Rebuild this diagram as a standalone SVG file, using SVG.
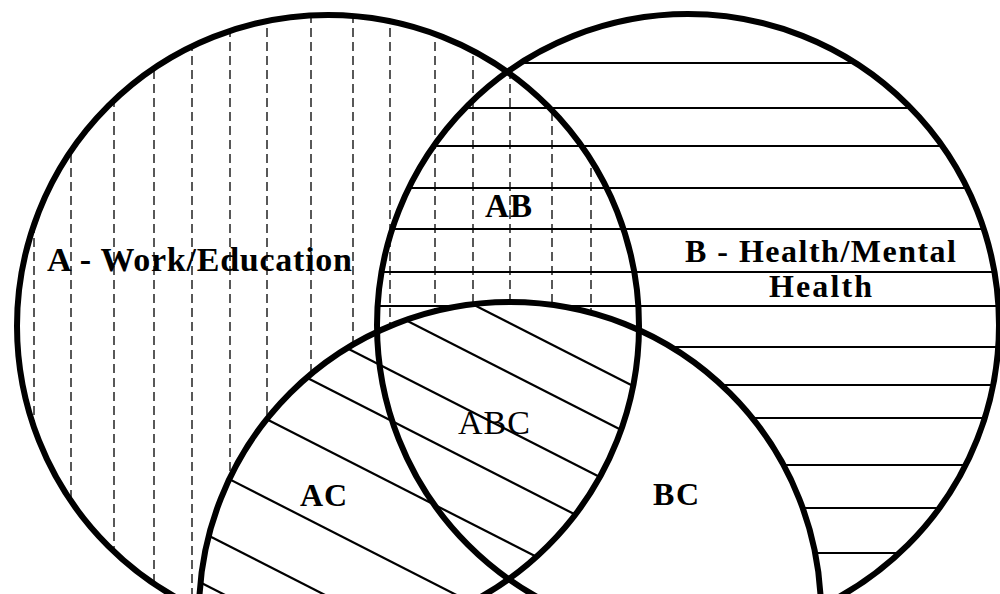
<svg xmlns="http://www.w3.org/2000/svg" width="1000" height="594" viewBox="0 0 1000 594">
  <style>
    .ring { fill: none; stroke: #000; stroke-width: 6; }
    .vdash { stroke: #222; stroke-width: 1.5; stroke-dasharray: 9 5; }
    .hline { stroke: #000; stroke-width: 2.2; }
    .dline { stroke: #000; stroke-width: 2.2; }
    .lbl { font-family: "Liberation Serif", "Times New Roman", serif; fill: #000; }
    .bold { font-weight: bold; }
  </style>
  <defs>
    <clipPath id="clipA"><circle cx="328" cy="326" r="311"/></clipPath>
    <clipPath id="clipC"><circle cx="510" cy="613" r="311"/></clipPath>
    <mask id="mAnotC" maskUnits="userSpaceOnUse" x="0" y="0" width="1000" height="594">
      <rect x="0" y="0" width="1000" height="594" fill="#000"/>
      <circle cx="328" cy="326" r="311" fill="#fff"/>
      <circle cx="510" cy="613" r="311" fill="#000"/>
    </mask>
    <mask id="mBnotC" maskUnits="userSpaceOnUse" x="0" y="0" width="1000" height="594">
      <rect x="0" y="0" width="1000" height="594" fill="#000"/>
      <circle cx="688" cy="325" r="311" fill="#fff"/>
      <circle cx="510" cy="613" r="311" fill="#000"/>
    </mask>
  </defs>
  <rect x="0" y="0" width="1000" height="594" fill="#fff"/>

  <g id="hatch-A" mask="url(#mAnotC)">
    <line class="vdash" x1="34" y1="0" x2="34" y2="594"/>
    <line class="vdash" x1="71" y1="0" x2="71" y2="594"/>
    <line class="vdash" x1="114" y1="0" x2="114" y2="594"/>
    <line class="vdash" x1="154" y1="0" x2="154" y2="594"/>
    <line class="vdash" x1="192" y1="0" x2="192" y2="594"/>
    <line class="vdash" x1="230" y1="0" x2="230" y2="594"/>
    <line class="vdash" x1="267" y1="0" x2="267" y2="594"/>
    <line class="vdash" x1="311" y1="0" x2="311" y2="594"/>
    <line class="vdash" x1="353" y1="0" x2="353" y2="594"/>
    <line class="vdash" x1="390" y1="0" x2="390" y2="594"/>
    <line class="vdash" x1="435" y1="0" x2="435" y2="594"/>
    <line class="vdash" x1="473" y1="0" x2="473" y2="594"/>
    <line class="vdash" x1="510" y1="0" x2="510" y2="594"/>
    <line class="vdash" x1="552" y1="0" x2="552" y2="594"/>
    <line class="vdash" x1="591" y1="0" x2="591" y2="594"/>
  </g>

  <g id="hatch-B" mask="url(#mBnotC)">
    <line class="hline" x1="360" y1="63" x2="1000" y2="63"/>
    <line class="hline" x1="360" y1="108" x2="1000" y2="108"/>
    <line class="hline" x1="360" y1="146" x2="1000" y2="146"/>
    <line class="hline" x1="360" y1="188" x2="1000" y2="188"/>
    <line class="hline" x1="360" y1="229" x2="1000" y2="229"/>
    <line class="hline" x1="360" y1="272" x2="1000" y2="272"/>
    <line class="hline" x1="360" y1="306" x2="1000" y2="306"/>
    <line class="hline" x1="360" y1="347" x2="1000" y2="347"/>
    <line class="hline" x1="360" y1="385" x2="1000" y2="385"/>
    <line class="hline" x1="360" y1="418" x2="1000" y2="418"/>
    <line class="hline" x1="360" y1="465" x2="1000" y2="465"/>
    <line class="hline" x1="360" y1="508" x2="1000" y2="508"/>
    <line class="hline" x1="360" y1="553" x2="1000" y2="553"/>
  </g>

  <g id="hatch-AC" clip-path="url(#clipA)">
    <g clip-path="url(#clipC)">
      <line class="dline" x1="150" y1="139.7" x2="700" y2="420.2"/>
      <line class="dline" x1="150" y1="189.7" x2="700" y2="470.2"/>
      <line class="dline" x1="150" y1="247.7" x2="700" y2="528.2"/>
      <line class="dline" x1="150" y1="297.7" x2="700" y2="578.2"/>
      <line class="dline" x1="150" y1="359.7" x2="700" y2="640.2"/>
      <line class="dline" x1="150" y1="438.7" x2="700" y2="719.2"/>
      <line class="dline" x1="150" y1="505.7" x2="700" y2="786.2"/>
      <line class="dline" x1="150" y1="556.7" x2="700" y2="837.2"/>
    </g>
  </g>

  <g id="circle-A">
    <circle class="ring" cx="328" cy="326" r="311"/>
    <text class="lbl bold" x="47" y="271" font-size="34" textLength="305" lengthAdjust="spacing">A - Work/Education</text>
  </g>
  <g id="circle-B">
    <circle class="ring" cx="688" cy="325" r="311"/>
    <text class="lbl bold" x="685" y="262" font-size="32" textLength="271" lengthAdjust="spacing">B - Health/Mental</text>
    <text class="lbl bold" x="769" y="297" font-size="32" textLength="103" lengthAdjust="spacing">Health</text>
  </g>
  <g id="circle-C">
    <circle class="ring" cx="510" cy="613" r="311"/>
  </g>
  <g id="region-AB">
    <text class="lbl bold" x="485" y="217" font-size="33" textLength="47" lengthAdjust="spacing">AB</text>
  </g>
  <g id="region-ABC">
    <text class="lbl" x="458" y="434" font-size="34" textLength="72" lengthAdjust="spacing">ABC</text>
  </g>
  <g id="region-AC">
    <text class="lbl bold" x="300" y="506" font-size="32" textLength="47" lengthAdjust="spacing">AC</text>
  </g>
  <g id="region-BC">
    <text class="lbl bold" x="653" y="505" font-size="32" textLength="46" lengthAdjust="spacing">BC</text>
  </g>
</svg>
